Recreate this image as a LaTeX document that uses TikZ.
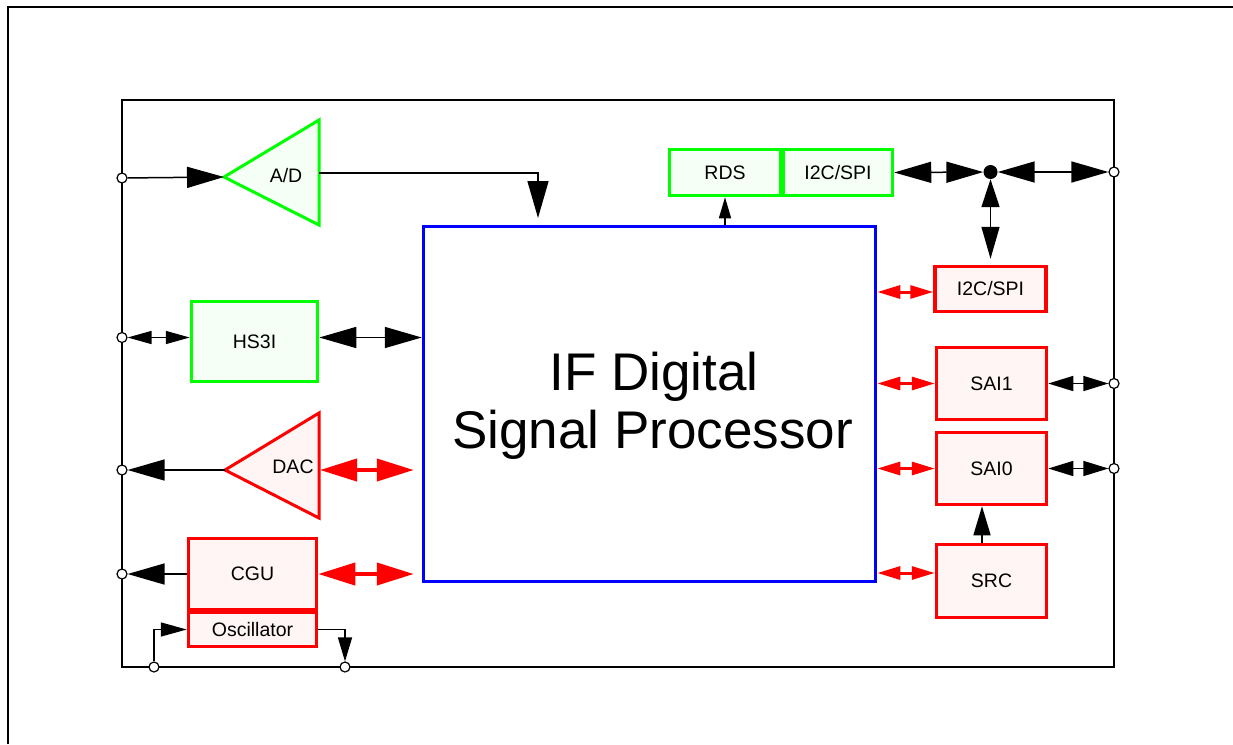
\documentclass[tikz,border=0pt]{standalone}
\usepackage{fontspec}
\setmainfont{Liberation Sans}
\usetikzlibrary{arrows.meta}
\definecolor{cgreen}{RGB}{0,255,0}
\definecolor{cred}{RGB}{255,0,0}
\definecolor{cblue}{RGB}{0,0,255}
\definecolor{gfill}{RGB}{246,255,246}
\definecolor{rfill}{RGB}{255,245,245}
\begin{document}
\begin{tikzpicture}[x=1pt,y=-1pt,
  lbl/.style={font=\fontsize{19.5}{23}\selectfont, text=black},
  gbox/.style={draw=cgreen, fill=gfill, line width=3.5pt, rectangle, inner sep=0pt, lbl},
  rbox/.style={draw=cred, fill=rfill, line width=3.5pt, rectangle, inner sep=0pt, lbl},
  term/.style={circle, draw=black, fill=white, line width=1.2pt, inner sep=0pt, minimum size=10pt},
  wire/.style={draw=black, line width=1.5pt},
  rwire/.style={draw=cred, line width=4pt},
  rwiresm/.style={draw=cred, line width=3pt},
  arrbig/.style={-{Triangle[length=37pt,width=21pt]}},
  dblbig/.style={{Triangle[length=37pt,width=21pt]}-{Triangle[length=37pt,width=21pt]}},
  dblsm/.style={{Triangle[length=24pt,width=13pt]}-{Triangle[length=24pt,width=13pt]}},
  dblmid/.style={{Triangle[length=25pt,width=15pt]}-{Triangle[length=25pt,width=15pt]}},
  dblred/.style={{Triangle[length=37pt,width=22pt]}-{Triangle[length=37pt,width=22pt]}},
  dblredsm/.style={{Triangle[length=23pt,width=13pt]}-{Triangle[length=23pt,width=13pt]}}
]
\useasboundingbox (0,0) rectangle (1233,744);
\fill[white] (0,0) rectangle (1233,744);
% frames
\draw[line width=2pt] (8,744) -- (8,7) -- (1233,7);
\draw[line width=1.5pt] (122,100) rectangle (1114,667);

% DSP
\node[draw=cblue, line width=3.5pt, minimum width=452pt, minimum height=355pt, inner sep=0pt] (dsp) at (649.5,404) {};
\node[anchor=base, font=\fontsize{53}{58}\selectfont] (dspt1) at (654,390) {IF Digital};
\node[anchor=base, font=\fontsize{53}{58}\selectfont] (dspt2) at (652.5,448) {Signal Processor};

% triangles
\coordinate (adApex) at (224,177);
\coordinate (adOut) at (319,173);
\coordinate (adIn) at (538,218);
\draw[draw=cgreen, fill=gfill, line width=3pt] (adApex) -- (319,120) -- (319,225) -- cycle;
\node[lbl, anchor=base] (adl) at (286,182) {A/D};

\coordinate (dacApex) at (225,470);
\coordinate (dacOut) at (320,470);
\draw[draw=cred, fill=rfill, line width=3pt] (dacApex) -- (319,413) -- (319,518) -- cycle;
\node[lbl, anchor=base] (dacl) at (293,473) {DAC};

% boxes
\node[gbox, minimum width=111pt, minimum height=46pt] (rds) at (725,172.5) {RDS};
\node[gbox, minimum width=109pt, minimum height=46pt] (i2cg) at (838,172.5) {I2C/SPI};
\node[gbox, minimum width=126pt, minimum height=80pt] (hs3i) at (254.5,341.5) {HS3I};
\node[rbox, minimum width=128pt, minimum height=71pt] (cgu) at (252.5,574) {CGU};
\node[rbox, minimum width=128pt, minimum height=34pt] (osc) at (252.5,629.5) {Oscillator};
\node[rbox, minimum width=111pt, minimum height=45pt] (i2cr) at (990.5,289) {I2C/SPI};
\node[rbox, minimum width=110pt, minimum height=72pt] (sai1) at (991.5,383.5) {SAI1};
\node[rbox, minimum width=110pt, minimum height=72pt] (sai0) at (991.5,468.5) {SAI0};
\node[rbox, minimum width=110pt, minimum height=73pt] (src) at (991.5,581) {SRC};

% terminals
\node[term] (pA) at (122,178) {};
\node[term] (pH) at (122,337.5) {};
\node[term] (pD) at (122,470) {};
\node[term] (pC) at (122,574) {};
\node[term] (pR1) at (1114,172) {};
\node[term] (pS1) at (1114,383.5) {};
\node[term] (pS0) at (1114,468.5) {};
\node[term] (pO1) at (154,667) {};
\node[term] (pO2) at (345,667) {};
\node[circle, fill=black, inner sep=0pt, minimum size=14pt] (dot) at (990.5,172) {};

% connectors
\draw[wire, arrbig] (pA) -- (adApex);
\draw[wire, arrbig] (adOut) -| (adIn);
\draw[wire, -{Triangle[length=21pt,width=12pt]}] (dsp.north -| rds.south) -- (rds.south);
\draw[wire, dblbig] (i2cg.east) -- (dot);
\draw[wire, dblbig] (dot) -- (pR1);
\draw[wire, {Triangle[length=28pt,width=18pt]}-{Triangle[length=32pt,width=18pt]}, shorten >=6pt] (dot) -- (i2cr.north);

\coordinate (hsL) at ([yshift=4pt]hs3i.west);
\coordinate (hsR) at ([yshift=4pt]hs3i.east);
\draw[wire, dblsm] (pH) -- (hsL);
\draw[wire, dblbig] (hsR) -- (dsp.west |- hsR);

\draw[wire, arrbig] (dacApex) -- (pD);
\draw[rwire, dblred, shorten >=8pt] (dacOut) -- (dsp.west |- dacOut);

\draw[wire, arrbig] (cgu.west) -- (pC);
\draw[rwire, dblred, shorten >=8pt] (cgu.east) -- (dsp.west |- cgu.east);

\draw[wire, -{Triangle[length=26pt,width=14pt]}] (pO1) |- (osc.west);
\draw[wire, -{Triangle[length=24pt,width=14pt]}] (osc.east) -| (pO2);

\coordinate (i2cin) at ([yshift=-3pt]i2cr.west);
\coordinate (srcin) at ([yshift=8pt]src.west);
\draw[rwiresm, dblredsm] (dsp.east |- i2cin) -- (i2cin);
\draw[rwiresm, dblredsm] (dsp.east |- sai1.west) -- (sai1.west);
\draw[rwiresm, dblredsm] (dsp.east |- sai0.west) -- (sai0.west);
\draw[rwiresm, dblredsm] (dsp.east |- srcin) -- (srcin);

\draw[wire, dblmid] (sai1.east) -- (pS1);
\draw[wire, dblmid] (sai0.east) -- (pS0);
\draw[wire, -{Triangle[length=29pt,width=17pt]}] ([xshift=-9.5pt]src.north) -- ([xshift=-9.5pt]sai0.south);
\end{tikzpicture}
\end{document}
